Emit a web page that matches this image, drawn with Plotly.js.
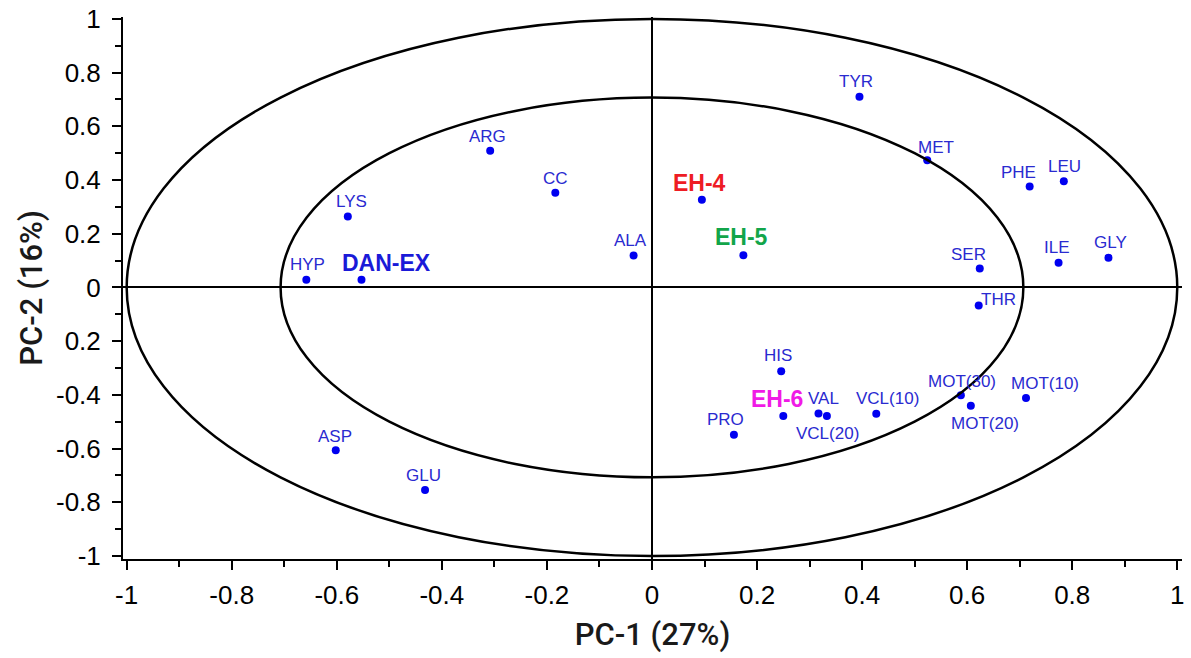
<!DOCTYPE html>
<html>
<head>
<meta charset="utf-8">
<script src="https://cdn.plot.ly/plotly-3.0.1.min.js"></script>
<style>html,body{margin:0;padding:0;background:#fff}#chart{width:1191px;height:658px}</style>
</head>
<body>
<div id="chart"></div>
<script>
// ---- data ----
const names = ["HYP","DAN-EX","LYS","ARG","CC","ALA","EH-4","EH-5","TYR","MET","PHE","LEU","SER","ILE","GLY","THR","HIS","EH-6","PRO","VAL","VCL(20)","VCL(10)","MOT(30)","MOT(20)","MOT(10)","ASP","GLU"];
const pc1 = [-0.658,-0.553,-0.579,-0.308,-0.184,-0.035,0.095,0.174,0.395,0.524,0.719,0.784,0.624,0.774,0.869,0.622,0.246,0.250,0.156,0.317,0.333,0.427,0.588,0.607,0.712,-0.602,-0.432];
const pc2 = [0.029,0.029,0.264,0.509,0.353,0.119,0.327,0.120,0.710,0.474,0.376,0.395,0.071,0.092,0.111,-0.067,-0.312,-0.479,-0.548,-0.469,-0.479,-0.470,-0.401,-0.440,-0.412,-0.606,-0.754];
const circleRadii = [1.0, 0.707];
const xTickVals = [-1,-0.8,-0.6,-0.4,-0.2,0,0.2,0.4,0.6,0.8,1];
const xTickText = ["-1","-0.8","-0.6","-0.4","-0.2","0","0.2","0.4","0.6","0.8","1"];
const yTickVals = [1,0.8,0.6,0.4,0.2,0,-0.2,-0.4,-0.6,-0.8,-1];
const yTickText = ["1","0.8","0.6","0.4","0.2","0","0.2","-0.4","-0.6","-0.8","-1"];
const xTitle = "PC-1 (27%)";
const yTitle = "PC-2 (16%)";

// ---- label styling (pixel offsets: [dx right, dy down]) ----
const labelOffset = {
  "HYP":[1,-15],"DAN-EX":[25,-17],"LYS":[4,-15],"ARG":[-3,-14],"CC":[0,-14],"ALA":[-3,-15],
  "EH-4":[-2,-17],"EH-5":[-2,-18],"TYR":[-3,-15],"MET":[9,-13],"PHE":[-11,-14],"LEU":[1,-15],
  "SER":[-11,-14],"ILE":[-2,-15],"GLY":[2,-15],"THR":[20,-6],"HIS":[-3,-16],"EH-6":[-6,-17],
  "PRO":[-8,-15],"VAL":[5,-15],"VCL(20)":[1,17],"VCL(10)":[11,-15],"MOT(30)":[1,-14],
  "MOT(20)":[14,18],"MOT(10)":[19,-15],"ASP":[-1,-14],"GLU":[-2,-14]
};
const specialStyle = {
  "DAN-EX":{color:"#1a1ad8"},
  "EH-4":{color:"#ee1c24"},
  "EH-5":{color:"#12a54a"},
  "EH-6":{color:"#f01ae6"}
};

const annotations = names.map((n,i)=>{
  const off = labelOffset[n] || [0,-14];
  const sp = specialStyle[n];
  return {
    x: pc1[i], y: pc2[i], xref:"x", yref:"y", text:n, showarrow:false,
    xanchor:"center", yanchor:"middle", xshift:off[0], yshift:-off[1],
    font: sp ? {family:"Liberation Sans, Arial, sans-serif", size:23, color:sp.color, weight:"bold"}
             : {family:"Liberation Sans, Arial, sans-serif", size:17, color:"#2a2ad0"}
  };
});

const shapes = circleRadii.map(r=>({
  type:"circle", xref:"x", yref:"y", x0:-r, x1:r, y0:-r, y1:r,
  line:{color:"#000", width:2.5}, layer:"above"
}));

const trace = {
  x: pc1, y: pc2, mode:"markers", type:"scatter",
  marker:{color:"#0000f0", size:8}, hoverinfo:"text", text:names
};

const tickFont = {family:"Liberation Sans, Arial, sans-serif", size:26, color:"#000"};
const titleFont = {family:"Roboto, sans-serif", size:31, color:"#1a1a1a", weight:500};

const layout = {
  width:1191, height:658,
  margin:{l:123, r:9, t:17, b:99},
  paper_bgcolor:"#fff", plot_bgcolor:"#fff",
  showlegend:false,
  xaxis:{
    range:[-1.007,1.009], showgrid:false, zeroline:true, zerolinecolor:"#000", zerolinewidth:2,
    showline:true, linecolor:"#000", linewidth:2, mirror:false,
    tickmode:"array", tickvals:xTickVals, ticktext:xTickText,
    ticks:"outside", ticklen:9, tickwidth:2, tickcolor:"#000",
    minor:{tickmode:"linear", tick0:-1, dtick:0.1, ticks:"outside", ticklen:6, tickwidth:2, tickcolor:"#000", showgrid:false},
    tickfont:tickFont, ticklabelstandoff:3,
    title:{text:xTitle, font:titleFont, standoff:14}
  },
  yaxis:{
    range:[-1.011,1.007], showgrid:false, zeroline:true, zerolinecolor:"#000", zerolinewidth:2,
    showline:true, linecolor:"#000", linewidth:2, mirror:false,
    tickmode:"array", tickvals:yTickVals, ticktext:yTickText,
    ticks:"outside", ticklen:9, tickwidth:2, tickcolor:"#000",
    minor:{tickmode:"linear", tick0:-1, dtick:0.1, ticks:"outside", ticklen:6, tickwidth:2, tickcolor:"#000", showgrid:false},
    tickfont:tickFont, ticklabelstandoff:6,
    title:{text:yTitle, font:titleFont, standoff:4}
  },
  shapes: shapes,
  annotations: annotations
};

Plotly.newPlot("chart", [trace], layout, {displayModeBar:false, staticPlot:true});
</script>
</body>
</html>
